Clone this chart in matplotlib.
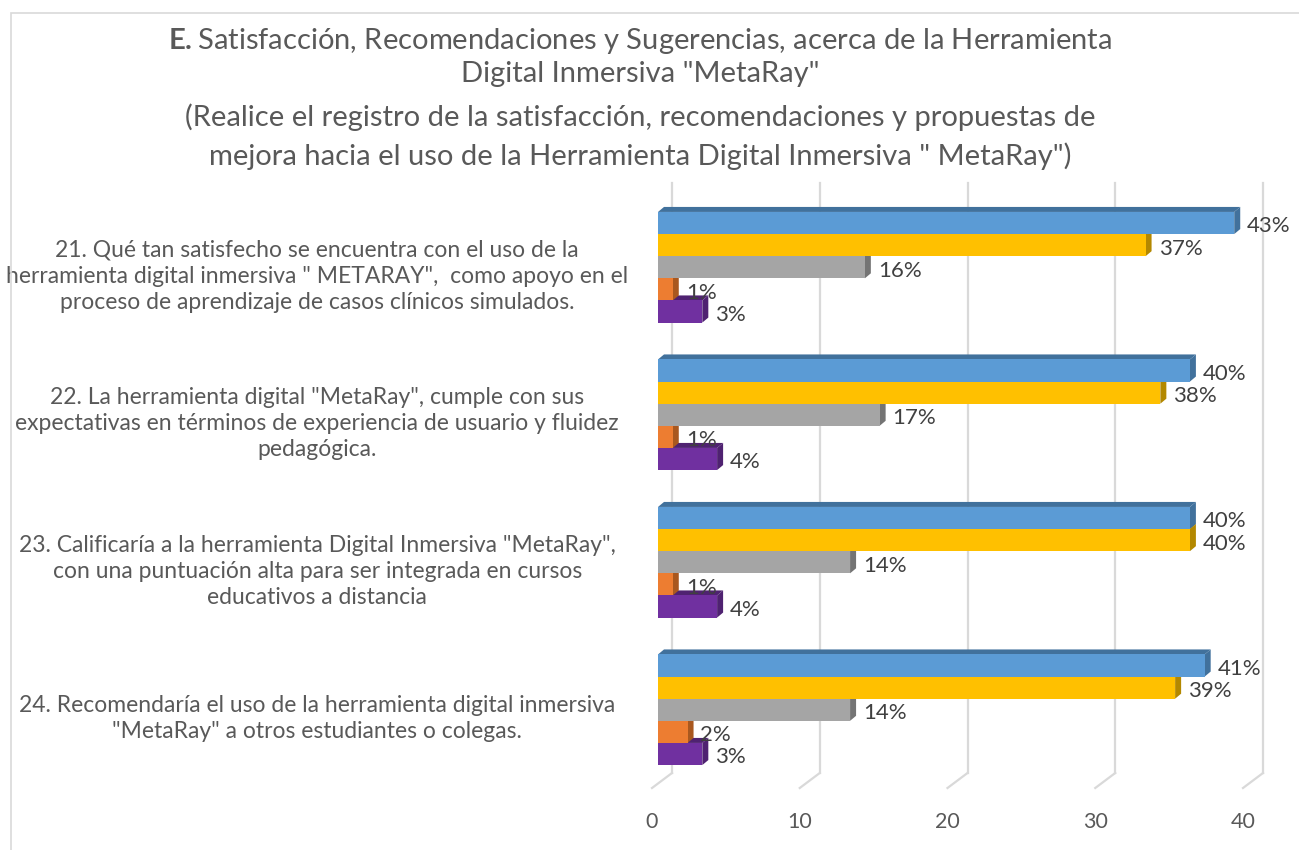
import numpy as np
import matplotlib.pyplot as plt
from matplotlib.patches import Polygon, Rectangle

plt.rcParams['font.family'] = ['Lato', 'DejaVu Sans']
plt.rcParams['mathtext.fontset'] = 'custom'
plt.rcParams['mathtext.rm'] = 'Lato'
plt.rcParams['mathtext.bf'] = 'Lato:bold'

# questions (category axis, top to bottom)
questions = [
    '21. Qué tan satisfecho se encuentra con el uso de la\n'
    'herramienta digital inmersiva " METARAY",  como apoyo en el\n'
    'proceso de aprendizaje de casos clínicos simulados.',
    '22. La herramienta digital "MetaRay", cumple con sus\n'
    'expectativas en términos de experiencia de usuario y fluidez\n'
    'pedagógica.',
    '23. Calificaría a la herramienta Digital Inmersiva "MetaRay",\n'
    'con una puntuación alta para ser integrada en cursos\n'
    'educativos a distancia',
    '24. Recomendaría el uso de la herramienta digital inmersiva\n'
    '"MetaRay" a otros estudiantes o colegas.',
]

# answer counts per series (bar order inside each group, top to bottom)
blue = [39, 36, 36, 37]
yellow = [33, 34, 36, 35]
gray = [14, 15, 13, 13]
orange = [1, 1, 1, 2]
purple = [3, 4, 4, 3]
series = [blue, yellow, gray, orange, purple]

x_ticks = [0, 10, 20, 30, 40]

face_colors = ['#5B9BD5', '#FFC000', '#A5A5A5', '#ED7D31', '#7030A0']
dark_colors = ['#41719C', '#B38800', '#747474', '#A9581F', '#4F2271']

totals = np.sum(series, axis=0)

W, H = 1299, 850
fig = plt.figure(figsize=(W / 100, H / 100), dpi=100)

# light chart border
fig.patches.append(Rectangle((11 / W, -0.1), 1.2, (H - 13) / H + 0.1, transform=fig.transFigure,
                             fill=False, ec='#d9d9d9', lw=1.2))

# title
tc = 640 / W
tsize = 21
fig.text(tc, 1 - 41 / H, r'$\mathbf{E.}$Satisfacción, Recomendaciones y Sugerencias, acerca de la Herramienta',
         ha='center', va='center', fontsize=tsize, color='#595959')
fig.text(tc, 1 - 74 / H, 'Digital Inmersiva "MetaRay"',
         ha='center', va='center', fontsize=tsize, color='#595959')
fig.text(tc, 1 - 117 / H, '(Realice el registro de la satisfacción, recomendaciones y propuestas de',
         ha='center', va='center', fontsize=tsize, color='#595959')
fig.text(tc, 1 - 156 / H, 'mejora hacia el uso de la Herramienta Digital Inmersiva " MetaRay")',
         ha='center', va='center', fontsize=tsize, color='#595959')

ax = fig.add_axes([652 / W, 62 / H, 591 / W, 590 / H])
ax.set_xlim(0, 40)
ax.set_ylim(3.5, -0.5)
ax.patch.set_visible(False)
for s in ax.spines.values():
    s.set_visible(False)


def px(dx, dy):
    # pixel shift -> data shift
    o = ax.transData.transform((0, 0))
    return ax.transData.inverted().transform(o + np.array([dx, dy]))


fx, fy = px(6, 4.5)   # bars sit a bit behind the front plane
dx, dy = px(6, 5)     # bar depth
gx, gy = px(20, 15)   # back wall

# back wall gridlines and floor
for t in x_ticks:
    ax.plot([t + gx, t + gx], [3.5 + gy, -0.5 + gy], color='#d9d9d9', lw=1.6, zorder=1, clip_on=False)
    ax.plot([t, t + gx], [3.5, 3.5 + gy], color='#d9d9d9', lw=1.6, zorder=1, clip_on=False)

bar_h = 0.15
for i in range(len(questions)):
    for j in range(len(series)):
        v = series[j][i]
        yc = i + (j - 2) * bar_h + fy
        top = yc - bar_h / 2
        bot = yc + bar_h / 2
        x0, x1 = fx, v + fx
        ax.add_patch(Polygon([(x0, top), (x1, top), (x1 + dx, top + dy), (x0 + dx, top + dy)],
                             closed=True, fc=dark_colors[j], ec='none', zorder=2))
        ax.add_patch(Polygon([(x1, bot), (x1, top), (x1 + dx, top + dy), (x1 + dx, bot + dy)],
                             closed=True, fc=dark_colors[j], ec='none', zorder=2.5))
        ax.barh(yc, v, height=bar_h, left=x0, color=face_colors[j], zorder=3)
        pct = round(100 * v / totals[i])
        ax.annotate(f'{pct}%', xy=(x1 + dx, yc), xytext=(5, -2.5), textcoords='offset points',
                    ha='left', va='center', fontsize=16, color='#404040', zorder=5,
                    annotation_clip=False)

ax.set_xticks(x_ticks)
ax.set_xticklabels([str(t) for t in x_ticks])
ax.tick_params(axis='x', length=0, pad=17, labelsize=15.5, labelcolor='#595959')

ax.set_yticks(range(len(questions)))
ax.set_yticklabels(questions)
ax.tick_params(axis='y', length=0, pad=241, labelsize=16.5, labelcolor='#595959')
for lab in ax.get_yticklabels():
    lab.set_ha('center')
    lab.set_multialignment('center')
    lab.set_linespacing(1.3)

fig.savefig('out.png', dpi=100)
